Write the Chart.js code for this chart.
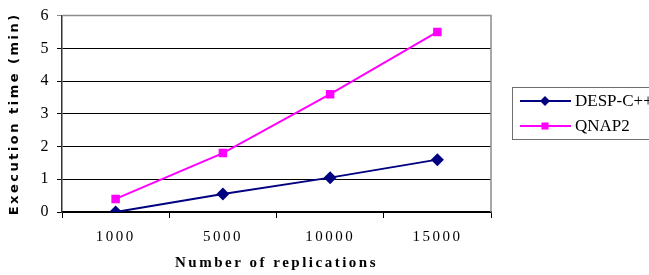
<!DOCTYPE html>
<html>
<head>
<meta charset="utf-8">
<script src="https://cdn.jsdelivr.net/npm/chart.js@4.4.1/dist/chart.umd.min.js"></script>
<style>
  html, body { margin: 0; padding: 0; background: #fff; }
  #wrap { width: 649px; height: 275px; }
</style>
</head>
<body>
<div id="wrap"><canvas id="chart" width="649" height="275"></canvas></div>
<script>
var replications = ['1000', '5000', '10000', '15000'];
var despValues = [0, 0.55, 1.05, 1.6];
var qnapValues = [0.4, 1.8, 3.6, 5.5];
var yTicks = [0, 1, 2, 3, 4, 5, 6];

var navy = '#000080';
var magenta = '#FF00FF';

// spacing on the axis texts, like the old office chart
var spacing = {
  id: 'spacing',
  beforeDraw: function(chart) { chart.ctx.letterSpacing = '2.5px'; },
  afterDatasetsDraw: function(chart) { chart.ctx.letterSpacing = '0px'; }
};

// gray frame on the right + box legend
var frame = {
  id: 'frame',
  beforeDatasetsDraw: function(chart) {
    var ctx = chart.ctx, a = chart.chartArea;
    ctx.save();
    ctx.strokeStyle = '#8c8c8c';
    ctx.lineWidth = 1.5;
    ctx.beginPath();
    ctx.moveTo(a.left, a.top);
    ctx.lineTo(a.right, a.top);
    ctx.lineTo(a.right, a.bottom);
    ctx.stroke();
    ctx.restore();
  },
  afterDraw: function(chart) {
    var ctx = chart.ctx;
    ctx.save();
    ctx.letterSpacing = '0px';
    ctx.strokeStyle = '#6e6e6e';
    ctx.lineWidth = 1;
    ctx.strokeRect(512.5, 87.5, 150, 52);
    var rows = [
      { label: 'DESP-C++', color: navy, y: 101, style: 'rectRot', r: 5 },
      { label: 'QNAP2', color: magenta, y: 126, style: 'rect', r: 5 }
    ];
    rows.forEach(function(row) {
      ctx.strokeStyle = row.color;
      ctx.lineWidth = 2;
      ctx.beginPath();
      ctx.moveTo(520, row.y);
      ctx.lineTo(571, row.y);
      ctx.stroke();
      ctx.fillStyle = row.color;
      Chart.helpers.drawPoint(ctx, { pointStyle: row.style, radius: row.r, borderWidth: 0 }, 545, row.y);
      ctx.fillStyle = '#000';
      ctx.font = '17px "Liberation Serif", serif';
      ctx.textBaseline = 'middle';
      ctx.fillText(row.label, 575, row.y + 1);
    });
    ctx.restore();
  }
};

var ctx = document.getElementById('chart');
var chart = new Chart(ctx, {
  type: 'line',
  data: {
    labels: replications,
    datasets: [
      {
        label: 'DESP-C++',
        data: despValues,
        borderColor: navy,
        backgroundColor: navy,
        borderWidth: 2,
        pointStyle: 'rectRot',
        pointRadius: 6.5,
        pointBorderWidth: 0,
        fill: false,
        tension: 0
      },
      {
        label: 'QNAP2',
        data: qnapValues,
        borderColor: magenta,
        backgroundColor: magenta,
        borderWidth: 2,
        pointStyle: 'rect',
        pointRadius: 6,
        pointBorderWidth: 0,
        fill: false,
        tension: 0
      }
    ]
  },
  options: {
    responsive: false,
    animation: false,
    layout: { padding: { left: 0, right: 158, top: 14, bottom: 0 } },
    plugins: {
      legend: { display: false },
      tooltip: { enabled: false }
    },
    scales: {
      x: {
        offset: true,
        grid: { offset: true, drawOnChartArea: false, tickLength: 6, color: '#000' },
        border: { color: '#000', width: 1.5 },
        ticks: {
          color: '#000',
          padding: 10,
          font: { family: '"Liberation Serif", serif', size: 15 }
        },
        title: {
          display: true,
          text: 'Number of replications',
          color: '#000',
          padding: { top: 0, bottom: 3 },
          font: { family: '"Liberation Serif", serif', size: 15, weight: 'bold' }
        },
        afterFit: function(scale) { scale.height = 63; }
      },
      y: {
        min: 0,
        max: 6,
        afterBuildTicks: function(scale) {
          scale.ticks = yTicks.map(function(v) { return { value: v }; });
        },
        grid: {
          tickLength: 5,
          lineWidth: 1,
          color: function(c) { return c.tick && c.tick.value === 6 ? '#8c8c8c' : '#000'; }
        },
        border: { color: '#333', width: 1.5 },
        ticks: {
          color: '#000',
          padding: 6,
          font: { family: '"Liberation Serif", serif', size: 16 }
        },
        title: {
          display: true,
          text: 'Execution time (min)',
          color: '#000',
          padding: { top: 7, bottom: 0 },
          font: { family: '"DejaVu Sans", sans-serif', size: 13, weight: 'bold' }
        },
        afterFit: function(scale) { scale.width = 62; }
      }
    }
  },
  plugins: [spacing, frame]
});
</script>
</body>
</html>
